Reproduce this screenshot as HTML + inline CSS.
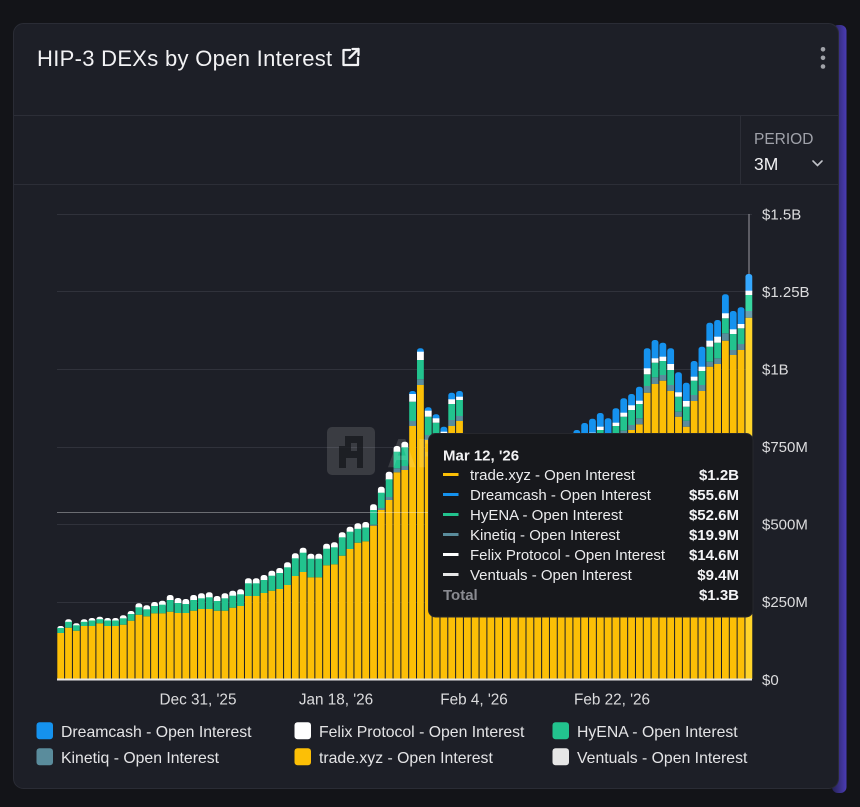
<!DOCTYPE html>
<html><head><meta charset="utf-8"><style>
html,body{margin:0;padding:0;background:#131418;width:860px;height:807px;overflow:hidden}
svg{display:block}
text{font-family:"Liberation Sans",Arial,sans-serif}
</style></head><body>
<svg id="s" width="860" height="807" viewBox="0 0 860 807" xmlns="http://www.w3.org/2000/svg">
<defs>
<linearGradient id="pg" x1="0" y1="0" x2="1" y2="0">
<stop offset="0" stop-color="#262255"/>
<stop offset="1" stop-color="#4a3cb5"/>
</linearGradient>
</defs>
<rect x="0" y="0" width="860" height="807" fill="#131418"/>
<rect x="832" y="25" width="14.5" height="768" rx="6" fill="url(#pg)"/>
<rect x="13.5" y="23.5" width="825" height="765" rx="10" fill="#1d1f27" stroke="#2a2c35"/>
<!-- header -->
<text x="37" y="66" font-size="22" fill="#f2f2f4" letter-spacing="0.3">HIP-3 DEXs by Open Interest</text>
<g fill="none" stroke="#f2f2f4" stroke-width="2.3" stroke-linecap="round" stroke-linejoin="round">
<polyline points="350,50 343.5,50 343.5,65 358,65 358,58"/>
<line x1="349.5" y1="58" x2="358.5" y2="49"/>
<polyline points="352.5,49 358.5,49 358.5,55"/>
</g>
<circle cx="823" cy="49.3" r="2.3" fill="#a0a2a8"/>
<circle cx="823" cy="57.8" r="2.3" fill="#a0a2a8"/>
<circle cx="823" cy="66.5" r="2.3" fill="#a0a2a8"/>
<line x1="14" y1="115.5" x2="838" y2="115.5" stroke="#2c2e37"/>
<line x1="14" y1="184.5" x2="838" y2="184.5" stroke="#2c2e37"/>
<line x1="740.5" y1="115.5" x2="740.5" y2="184.5" stroke="#2c2e37"/>
<text x="754" y="144" font-size="15.5" fill="#a0a2aa">PERIOD</text>
<text x="754" y="170" font-size="17.5" fill="#f0f0f2">3M</text>
<polyline points="813,161 817.5,165.5 822,161" fill="none" stroke="#c0c2c8" stroke-width="1.6" stroke-linecap="round"/>
<!-- grid -->
<g stroke="#30323b" stroke-width="1">
<line x1="57" y1="214.5" x2="752" y2="214.5"/>
<line x1="57" y1="291.5" x2="752" y2="291.5"/>
<line x1="57" y1="369.5" x2="752" y2="369.5"/>
<line x1="57" y1="447.5" x2="752" y2="447.5"/>
<line x1="57" y1="524.5" x2="752" y2="524.5"/>
<line x1="57" y1="602.5" x2="752" y2="602.5"/>
</g>
<g id="bars"></g>
<rect x="57" y="678.5" width="695" height="2" fill="#e6e6e6"/>
<!-- crosshair -->
<line x1="57" y1="512.5" x2="430" y2="512.5" stroke="rgba(255,255,255,0.35)" stroke-width="1"/>
<line x1="749" y1="214" x2="749" y2="274" stroke="#9a9aa0" stroke-width="1"/>
<!-- watermark -->
<rect x="327" y="427" width="48" height="48" rx="5" fill="rgba(255,255,255,0.13)"/>
<path d="M345 436 h18 v32 h-6 v-10 h-11 v10 h-7 v-22 h6 z M351 443 v8 h6 v-8 z" fill="rgba(20,21,27,0.75)" fill-rule="evenodd"/>
<text x="387" y="467" font-size="41" font-weight="bold" fill="rgba(255,255,255,0.13)">ARTEMIS</text>
<!-- y labels -->
<g font-size="15" fill="#dcdcde">
<text x="762" y="219.5">$1.5B</text>
<text x="762" y="297">$1.25B</text>
<text x="762" y="374.5">$1B</text>
<text x="762" y="452">$750M</text>
<text x="762" y="529.5">$500M</text>
<text x="762" y="607">$250M</text>
<text x="762" y="685">$0</text>
</g>
<!-- x labels -->
<g font-size="15.3" fill="#dcdcde" text-anchor="middle">
<text x="198" y="704.5">Dec 31, '25</text>
<text x="336" y="704.5">Jan 18, '26</text>
<text x="474" y="704.5">Feb 4, '26</text>
<text x="612" y="704.5">Feb 22, '26</text>
</g>
<!-- legend -->
<g font-size="15.8" fill="#e4e4e6">
<rect x="36.5" y="722.3" width="16.5" height="17" rx="3" fill="#1592ee"/>
<text x="61" y="737">Dreamcash - Open Interest</text>
<rect x="294.5" y="722.3" width="16.5" height="17" rx="3" fill="#ffffff"/>
<text x="319" y="737">Felix Protocol - Open Interest</text>
<rect x="552.5" y="722.3" width="16.5" height="17" rx="3" fill="#22c38e"/>
<text x="577" y="737">HyENA - Open Interest</text>
<rect x="36.5" y="748.3" width="16.5" height="17" rx="3" fill="#5a8c9c"/>
<text x="61" y="763">Kinetiq - Open Interest</text>
<rect x="294.5" y="748.3" width="16.5" height="17" rx="3" fill="#fcbf06"/>
<text x="319" y="763">trade.xyz - Open Interest</text>
<rect x="552.5" y="748.3" width="16.5" height="17" rx="3" fill="#e6e6e6"/>
<text x="577" y="763">Ventuals - Open Interest</text>
</g>
<!-- tooltip -->
<rect x="428.5" y="433.5" width="324.5" height="183.5" rx="7" fill="#17181c" stroke="#26272d"/>
<text x="443" y="460.5" font-size="15" font-weight="bold" fill="#f2f2f4">Mar 12, '26</text>
<g stroke-width="3" stroke-linecap="butt">
<line x1="443" y1="474.5" x2="458.5" y2="474.5" stroke="#fcbf06"/>
<line x1="443" y1="494.5" x2="458.5" y2="494.5" stroke="#1592ee"/>
<line x1="443" y1="514.5" x2="458.5" y2="514.5" stroke="#22c38e"/>
<line x1="443" y1="534.5" x2="458.5" y2="534.5" stroke="#5a8c9c"/>
<line x1="443" y1="554.5" x2="458.5" y2="554.5" stroke="#ffffff"/>
<line x1="443" y1="574.5" x2="458.5" y2="574.5" stroke="#e6e6e6"/>
</g>
<g font-size="15" fill="#ececee">
<text x="470" y="480">trade.xyz - Open Interest</text>
<text x="470" y="500">Dreamcash - Open Interest</text>
<text x="470" y="520">HyENA - Open Interest</text>
<text x="470" y="540">Kinetiq - Open Interest</text>
<text x="470" y="560">Felix Protocol - Open Interest</text>
<text x="470" y="580">Ventuals - Open Interest</text>
<text x="443" y="600" font-weight="bold" fill="#8a8b91">Total</text>
</g>
<g font-size="15" font-weight="bold" fill="#f4f4f6" text-anchor="end">
<text x="739" y="480">$1.2B</text>
<text x="739" y="500">$55.6M</text>
<text x="739" y="520">$52.6M</text>
<text x="739" y="540">$19.9M</text>
<text x="739" y="560">$14.6M</text>
<text x="739" y="580">$9.4M</text>
<text x="739" y="600">$1.3B</text>
</g>
</svg>
<script>
(function(){
var D=[[633,0,5,2,0],[627.7,0,5.9,2.5,0],[630.7,0,5.4,2,0],[626,0,4.2,2.5,0],[626,0,5.5,2.5,0],[623.3,0,4.1,2.5,0],[626,0,5.5,2.5,0],[626,0,5.5,2.5,0],[624.7,0,6.4,3,0],[620.7,0,6.7,3,0],
[614.7,0,7.4,4,0],[616.3,0,7,4,0],[613.3,0,7.3,4,0],[613.3,0,8.6,4,0],[611.7,0,11.7,5,0],[613,0,10,5,0],[613,0,9,5,0],[610.7,0,10.7,5,0],[609,0,10.7,5,0],[609,0,11.7,5,0],
[610.7,0,9.7,5,0],[610.7,0,12.4,5,0],[607.7,0,12,5,0],[606,0,11.7,5,0],[596,0,12.7,5,0],[596,0,12.7,5,0],[593,0,13,5,0],[590.7,0,15,5,0],[589,0,16,5,0],[585,0,17.7,5,0],
[576,0,17.7,5,0],[572,0,19.3,5,0],[577.3,0,18.6,5,0],[577.3,0,18.6,5,0],[565.3,0,16.6,5,0],[564.3,0,17,5,0],[555.7,0,18.4,5,0],[549,0,17.3,5,0],[542.7,0,13.9,5.5,0],[541.3,0,13.8,5.5,0],
[525.7,1,14.7,5.7,0],[510,2,15.3,6,0],[500,3,17.7,7.6,0],[472.3,4,16.6,5.7,0],[470,4,18.7,5.6,0],[426,5,19.3,7.7,3],[385,5.7,19.3,8.3,3.4],[440,5,18.3,6,3.4],[445,5,17.3,4.4,4],[458,5,17.3,4,5],
[426,6,16,4.7,6.6],[421,5,16,3.3,5.7],[479,5,15,4,10],[489,5,15,4,10],[496,5,15,4,10],[504,5,15,4,10],[509,5,15,4,10],[502,5,15,4,10],[506,5,15,4,10],[512,5,15,4,10],
[504,5,15,4,10],[496,5,15,4,10],[489,5,15,4,10],[482,5,15,4,10],[476,5,15,4,10],[472,5,15,4,10],[468,5,15,4,14],[461,5,15,4,14],[456.7,5,15,4,14],[450,5,15,3.3,13.7],
[459.3,5,15,4,17],[446,5,15,3.3,14.4],[435.7,5,14,4,14.4],[430,5,15,4.7,11.3],[424.3,6,14.3,3.3,14],[392.7,6.7,11.7,6,20],[384,6.7,14.6,4.4,18.3],[380.7,5.7,14,4.3,14],[391,6,15,6,15.7],[416.7,5,15,4.4,20],
[426.7,6,14,5.7,18.3],[401,6,14.3,4,15.7],[391,6,14,4.3,20],[366.7,5,15,6,18],[364,5.7,15.6,6,16.7],[340.7,7.4,15,5,19],[355,5,16,4.7,18.3],[350,6,15.7,4.3,16.7],[317.7,6.7,16,4.3,16.7]];
var C=["#fcbf06","#5a8c9c","#22c38e","#ffffff","#1592ee"];
var CH=["#ffd42a","#6a9eae","#38d6a0","#ffffff","#35a8ff"];
var g=document.getElementById("bars"),out="";
var base=679;
for(var i=0;i<D.length;i++){
  var d=D[i],x=57.3+7.82*i,w=6.8,cols=(i==D.length-1)?CH:C;
  var segs=[{c:cols[0],y0:d[0],y1:base}],y=d[0];
  for(var j=1;j<5;j++){var h=d[j];if(h>0){segs.push({c:cols[j],y0:y-h,y1:y});y-=h;}}
  var t=segs[segs.length-1];
  out+='<rect x="'+x.toFixed(2)+'" y="'+t.y0.toFixed(2)+'" width="'+w+'" height="'+(t.y1-t.y0+3).toFixed(2)+'" rx="2.6" fill="'+t.c+'"/>';
  for(var k=0;k<segs.length-1;k++){var s=segs[k];
    out+='<rect x="'+x.toFixed(2)+'" y="'+s.y0.toFixed(2)+'" width="'+w+'" height="'+(s.y1-s.y0).toFixed(2)+'" fill="'+s.c+'"/>';}
}
g.innerHTML=out;
})();
</script>
</body></html>
